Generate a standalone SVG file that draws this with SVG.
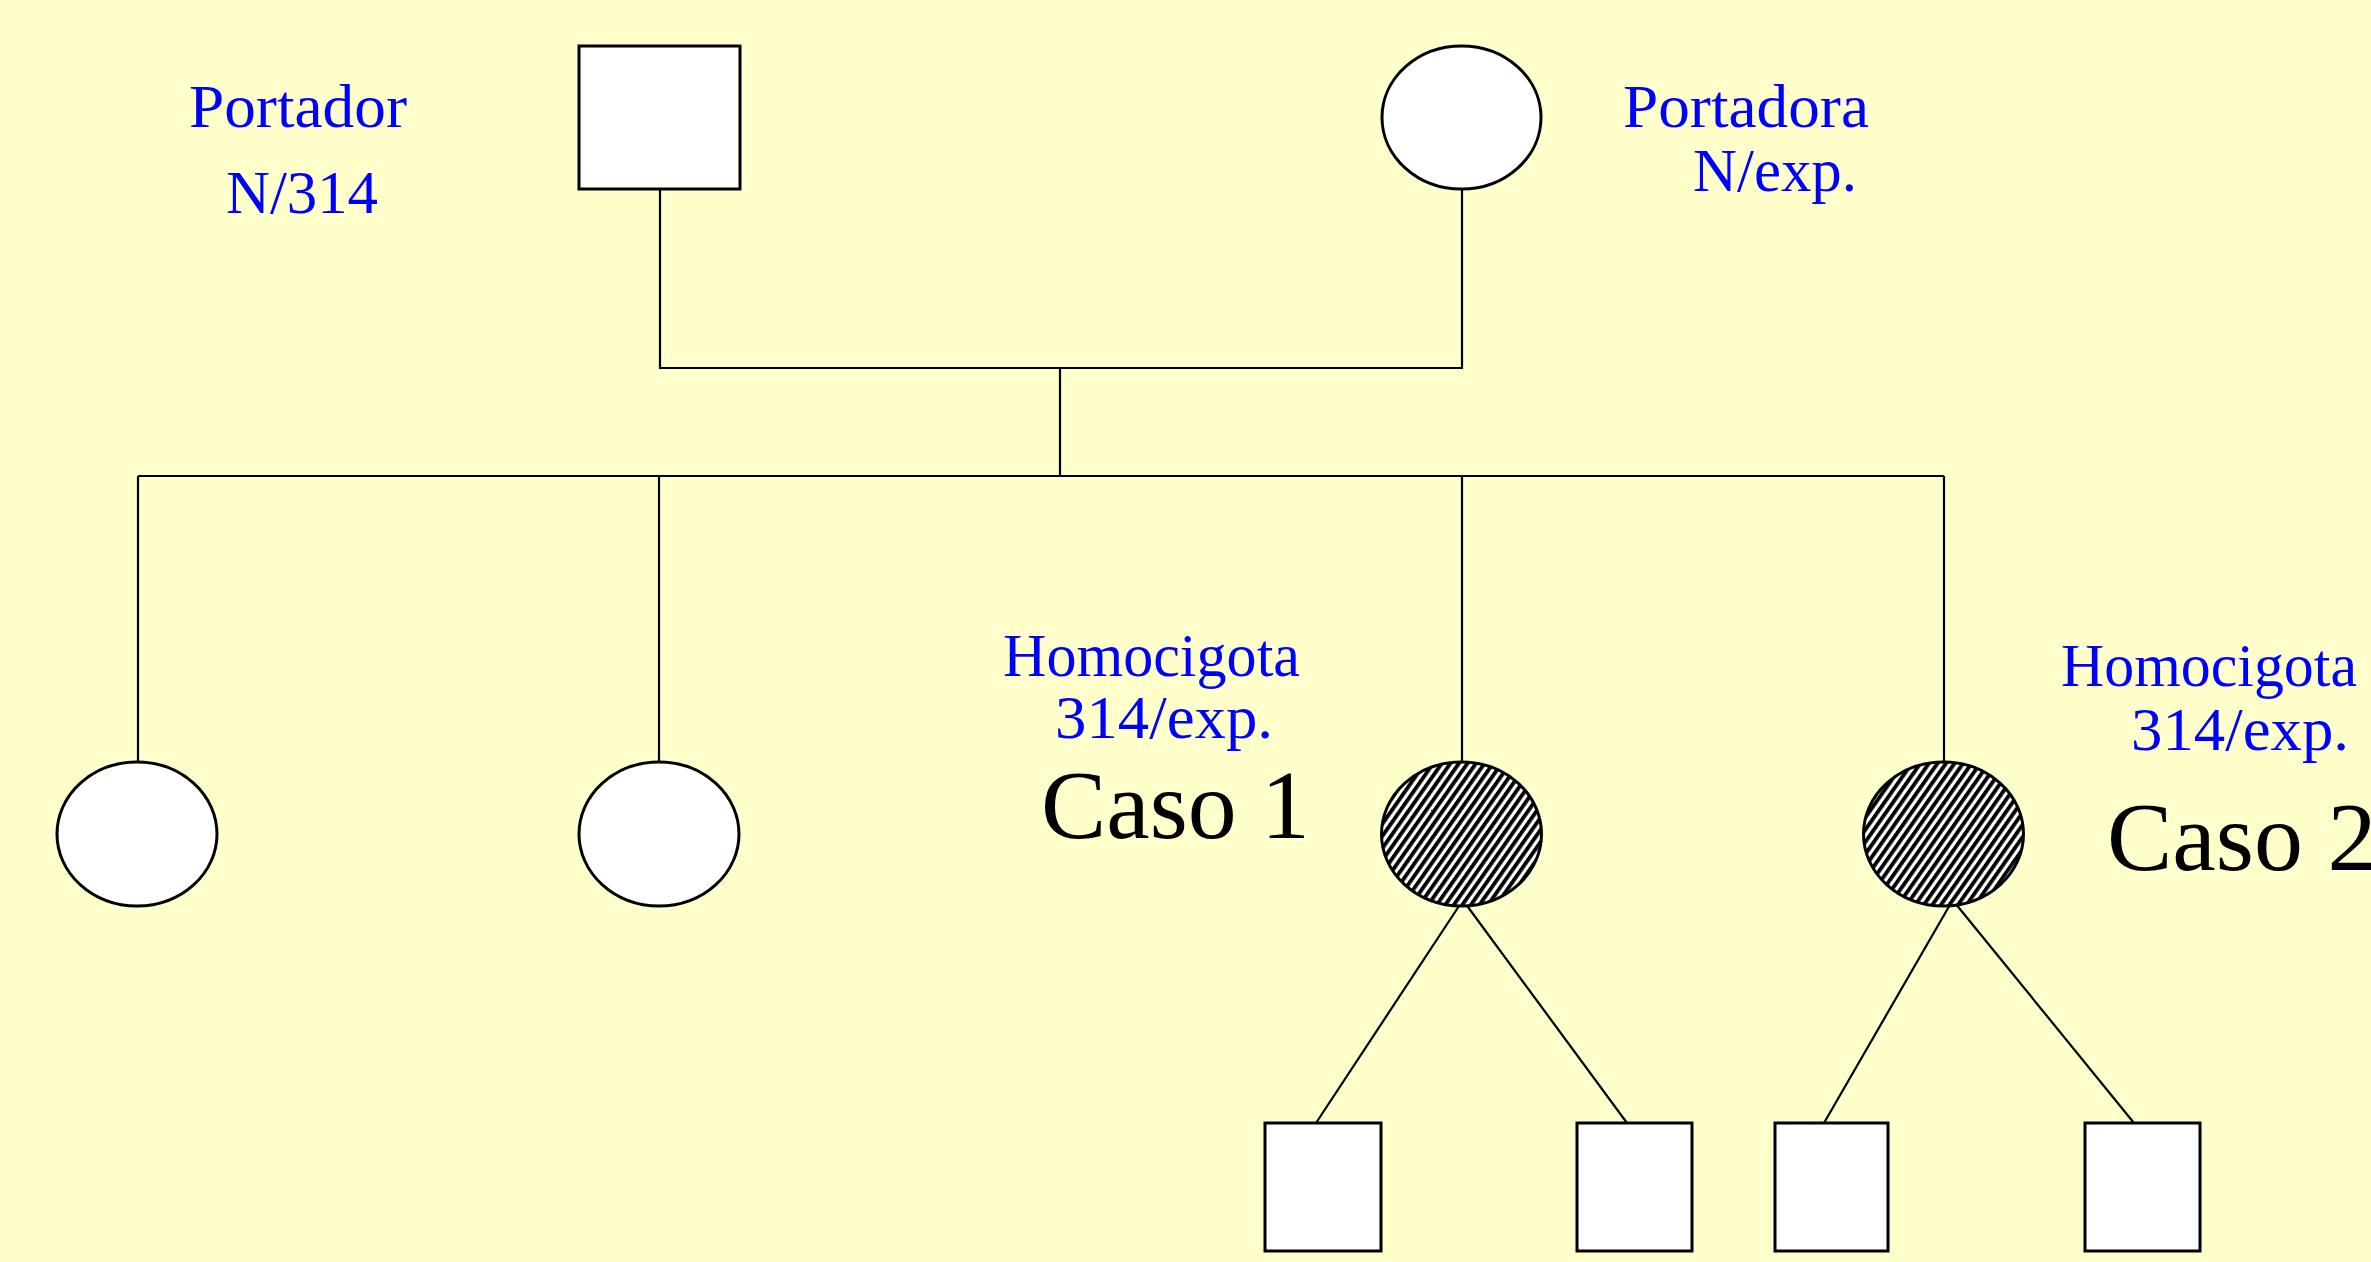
<svg xmlns="http://www.w3.org/2000/svg" width="2371" height="1262" viewBox="0 0 2371 1262">
  <defs>
    <pattern id="hatch" width="7" height="7" patternUnits="userSpaceOnUse" patternTransform="rotate(35)">
      <rect width="7" height="7" fill="#ffffff"/>
      <rect width="3.8" height="7" fill="#000000"/>
    </pattern>
    <style>
      .bg { fill: #ffffcc; }
      .shape { fill: #ffffff; stroke: #000000; stroke-width: 3; }
      .affected { fill: url(#hatch); stroke: #000000; stroke-width: 3; }
      .link { fill: none; stroke: #000000; stroke-width: 2.2; }
      .lbl { font-family: "Liberation Serif", "Times New Roman", serif; font-size: 61px; fill: #0000ff; }
      .case { font-family: "Liberation Serif", "Times New Roman", serif; font-size: 98px; fill: #000000; }
    </style>
  </defs>

  <rect class="bg" x="0" y="0" width="2371" height="1262"/>

  <!-- connectors -->
  <g id="connectors">
    <polyline class="link" points="660,189 660,368 1462,368 1462,189"/>
    <line class="link" x1="1060" y1="368" x2="1060" y2="476"/>
    <line class="link" x1="138" y1="476" x2="1944" y2="476"/>
    <line class="link" x1="138" y1="476" x2="138" y2="762"/>
    <line class="link" x1="659" y1="476" x2="659" y2="762"/>
    <line class="link" x1="1462" y1="476" x2="1462" y2="762"/>
    <line class="link" x1="1944" y1="476" x2="1944" y2="762"/>
    <line class="link" x1="1461" y1="903" x2="1316" y2="1123"/>
    <line class="link" x1="1465" y1="903" x2="1627" y2="1123"/>
    <line class="link" x1="1951" y1="903" x2="1824" y2="1123"/>
    <line class="link" x1="1955" y1="903" x2="2134" y2="1123"/>
  </g>

  <!-- parents -->
  <g id="father">
    <rect class="shape" x="579" y="46" width="161" height="143"/>
  </g>
  <g id="mother">
    <ellipse class="shape" cx="1461.5" cy="117.5" rx="79.5" ry="71.5"/>
  </g>

  <!-- children -->
  <g id="daughter1">
    <ellipse class="shape" cx="137" cy="834" rx="80" ry="72"/>
  </g>
  <g id="daughter2">
    <ellipse class="shape" cx="659" cy="834" rx="80" ry="72"/>
  </g>
  <g id="case1">
    <ellipse class="affected" cx="1461.5" cy="834" rx="80" ry="72"/>
  </g>
  <g id="case2">
    <ellipse class="affected" cx="1943.5" cy="834" rx="80" ry="72"/>
  </g>

  <!-- grandchildren -->
  <g id="son1"><rect class="shape" x="1265" y="1123" width="116" height="128"/></g>
  <g id="son2"><rect class="shape" x="1577" y="1123" width="115" height="128"/></g>
  <g id="son3"><rect class="shape" x="1775" y="1123" width="113" height="128"/></g>
  <g id="son4"><rect class="shape" x="2085" y="1123" width="115" height="128"/></g>

  <!-- labels -->
  <g id="labels">
    <text class="lbl" x="189" y="127" textLength="218" lengthAdjust="spacingAndGlyphs">Portador</text>
    <text class="lbl" x="226" y="213" textLength="152" lengthAdjust="spacingAndGlyphs">N/314</text>
    <text class="lbl" x="1623" y="127" textLength="246" lengthAdjust="spacingAndGlyphs">Portadora</text>
    <text class="lbl" x="1693" y="191" textLength="164" lengthAdjust="spacingAndGlyphs">N/exp.</text>
    <text class="lbl" x="1003" y="676" textLength="297" lengthAdjust="spacingAndGlyphs">Homocigota</text>
    <text class="lbl" x="1055" y="738" textLength="218" lengthAdjust="spacingAndGlyphs">314/exp.</text>
    <text class="lbl" x="2061" y="686" textLength="296" lengthAdjust="spacingAndGlyphs">Homocigota</text>
    <text class="lbl" x="2131" y="750" textLength="218" lengthAdjust="spacingAndGlyphs">314/exp.</text>
    <text class="case" x="1041" y="838" textLength="269" lengthAdjust="spacingAndGlyphs">Caso 1</text>
    <text class="case" x="2107" y="870">Caso 2</text>
  </g>
</svg>
